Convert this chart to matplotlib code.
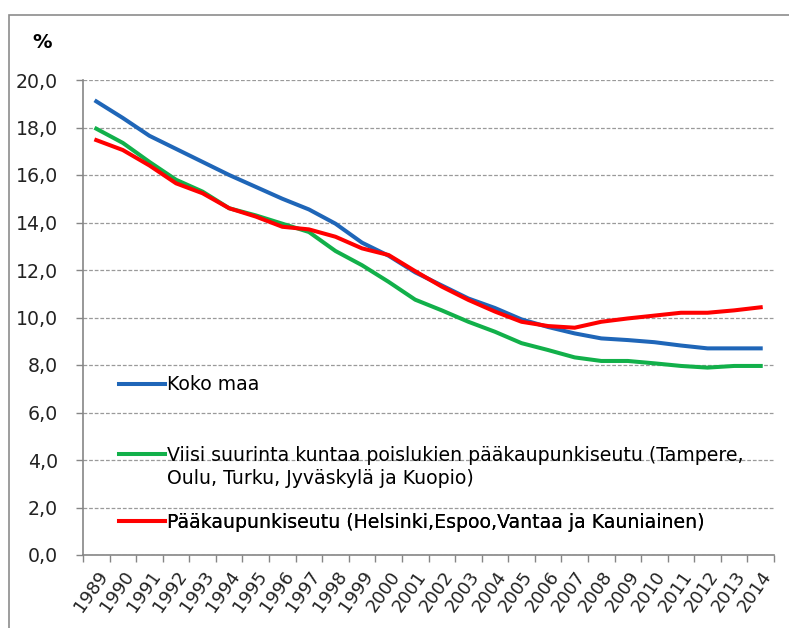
import matplotlib
matplotlib.use("Agg")
import matplotlib.pyplot as plt
from matplotlib.patches import Rectangle
from matplotlib.lines import Line2D
import numpy as np

plt.rcParams['font.family'] = ['DejaVu Sans']

years = [str(y) for y in range(1989, 2015)]
koko_maa = [19.1, 18.4, 17.65, 17.1, 16.55, 16.0, 15.5, 15.0, 14.55, 13.95, 13.15, 12.6,
            11.9, 11.35, 10.8, 10.4, 9.92, 9.6, 9.33, 9.12, 9.05, 8.96, 8.82, 8.7, 8.7, 8.7]
viisi = [17.95, 17.35, 16.55, 15.8, 15.3, 14.6, 14.3, 13.95, 13.6, 12.8, 12.2, 11.5,
         10.75, 10.3, 9.82, 9.4, 8.92, 8.63, 8.32, 8.17, 8.17, 8.07, 7.96, 7.89, 7.96, 7.96]
paakaup = [17.47, 17.05, 16.4, 15.65, 15.23, 14.6, 14.25, 13.82, 13.71, 13.4, 12.91, 12.63,
           11.95, 11.3, 10.74, 10.25, 9.82, 9.64, 9.57, 9.82, 9.96, 10.08, 10.2, 10.2, 10.3, 10.43]
label_koko = "Koko maa"
label_viisi_1 = "Viisi suurinta kuntaa poislukien pääkaupunkiseutu (Tampere,"
label_viisi_2 = "Oulu, Turku, Jyväskylä ja Kuopio)"
label_paak = "Pääkaupunkiseutu (Helsinki,Espoo,Vantaa ja Kauniainen)"
colors = ["#1F66B8", "#12B04A", "#FF0000"]
yticks = [0, 2, 4, 6, 8, 10, 12, 14, 16, 18, 20]

W, H = 789, 628
fig = plt.figure(figsize=(W / 100, H / 100), dpi=100)
ax = fig.add_axes([83 / W, 1 - 555 / H, (774 - 83) / W, (555 - 80) / H])

# outer frame
fig.patches.append(Rectangle((9 / W, -0.1), 1.2, 1.1 - 15 / H, transform=fig.transFigure,
                             fill=False, edgecolor="#8C8C8C", linewidth=1.2))

x = np.arange(len(years))
ln_k, = ax.plot(x, koko_maa, color=colors[0], linewidth=2.9, zorder=3)
ln_v, = ax.plot(x, viisi, color=colors[1], linewidth=2.9, zorder=3)
ln_p, = ax.plot(x, paakaup, color=colors[2], linewidth=2.9, zorder=3)

FS = 13.6
ax.set_xlim(-0.5, len(years) - 0.5)
ax.set_ylim(0, 20)
ax.set_yticks(yticks)
ax.set_yticklabels([f"{v:.1f}".replace('.', ',') for v in yticks], fontsize=FS, color="#222222")
ax.yaxis.grid(True, linestyle=(0, (3, 1.5)), color="#9A9A9A", linewidth=0.9)
ax.set_axisbelow(True)

ax.set_xticks(x)
ax.set_xticklabels(years, rotation=55, ha='right', rotation_mode='anchor', fontsize=13, color="#222222")
ax.set_xticks(np.arange(-0.5, len(years)), minor=True)
ax.tick_params(axis='x', which='major', length=0, pad=9)
ax.tick_params(axis='x', which='minor', length=5, width=1, color="#868686", direction='out')
ax.tick_params(axis='y', length=5, width=1, color="#868686", direction='out', pad=13)

for s in ['top', 'right']:
    ax.spines[s].set_visible(False)
for s in ['left', 'bottom']:
    ax.spines[s].set_color("#868686")
    ax.spines[s].set_linewidth(1.2)

fig.text(32 / W, 1 - 42 / H, "%", fontsize=14, fontweight='bold', va='center', ha='left')

# legend entries (separate to match spacing)
blank = Line2D([], [], linestyle='none')
entries = [([ln_k], [label_koko], 385),
           ([ln_v, blank], [label_viisi_1, label_viisi_2], 467),
           ([ln_p], [label_paak], 522)]
for hs, ls, yp in entries:
    lg = ax.legend(hs, ls, loc='center left',
                   bbox_to_anchor=((119 - 83) / (774 - 83), (555 - yp) / (555 - 80)),
                   frameon=False, fontsize=FS, handlelength=2.45, handletextpad=0.1,
                   borderpad=0, borderaxespad=0, labelspacing=0.25)
    ax.add_artist(lg)

fig.savefig("out.png", dpi=100)
